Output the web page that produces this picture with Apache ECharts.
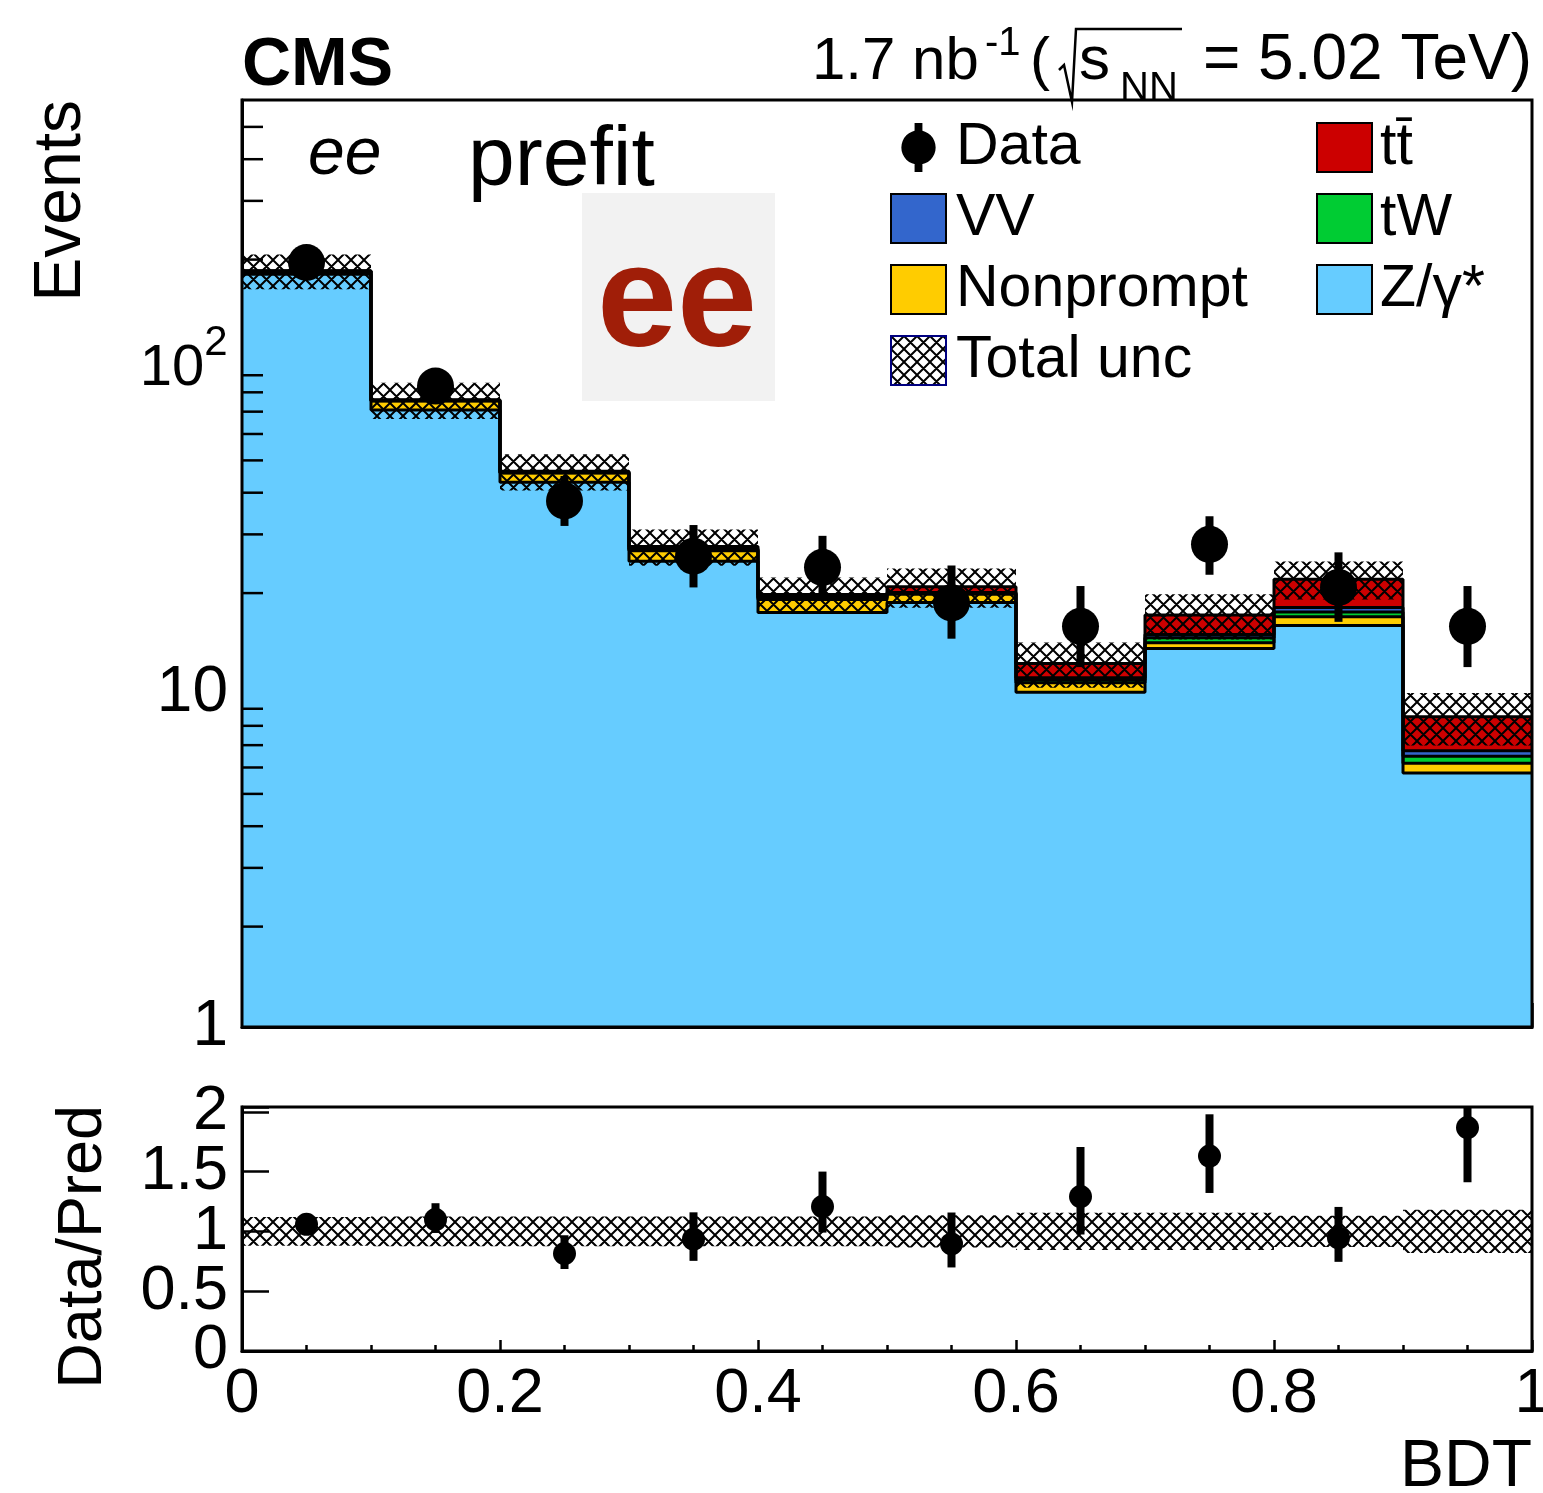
<!DOCTYPE html>
<html>
<head>
<meta charset="utf-8">
<script src="https://cdn.jsdelivr.net/npm/echarts@6/dist/echarts.min.js"></script>
<style>
  html, body { margin: 0; padding: 0; background: #ffffff; }
  #chart { width: 1543px; height: 1493px; }
</style>
</head>
<body>
<div id="chart"></div>
<script>
// ---- BDT distribution, ee channel, prefit ----
const binEdges = [0, 0.1, 0.2, 0.3, 0.4, 0.5, 0.6, 0.7, 0.8, 0.9, 1.0];

// expected yields per bin (stacked bottom to top)
const zgamma    = [180.8, 70.8, 43.0, 24.9, 17.5, 18.73, 10.09, 13.65, 16.0, 5.78];
const nonprompt = [3.5, 4.5, 2.8, 1.9, 1.65, 1.1, 0.68, 0.55, 1.0, 0.40];
const tw        = [0.2, 0.2, 0.15, 0.2, 0.15, 0.15, 0.2, 0.5, 0.55, 0.30];
const vv        = [0.3, 0.2, 0.15, 0.15, 0.15, 0.12, 0.18, 0.34, 0.55, 0.25];
const ttbar     = [0.3, 0.3, 0.3, 0.45, 0.35, 0.8, 1.16, 2.14, 3.9, 1.78];

// relative total uncertainty on the prediction
const relUnc = [0.12, 0.125, 0.125, 0.125, 0.125, 0.135, 0.155, 0.155, 0.13, 0.18];

// observed events and their errors
const dataCounts  = [196, 83.5, 37.8, 25.8, 23.9, 18.7, 15.9, 28.0, 20.8, 15.9];
const dataErrUp   = [14.5, 10.4, 7.1, 6.2, 5.8, 5.5, 5.1, 6.0, 5.7, 5.1];
const dataErrDown = [13.5, 8.5, 6.0, 5.0, 4.3, 4.1, 3.9, 5.3, 4.4, 3.9];

// axis settings
const mainYRange = [1, 602];
const ratioYRange = [0, 2.04];
const mainYMinorTicks = [2, 3, 4, 5, 6, 7, 8, 9, 20, 30, 40, 50, 60, 70, 80, 90, 200, 300, 400, 500];
const ratioYLabels = ['0', '0.5', '1', '1.5', '2'];

const FONT = '"Liberation Sans", Arial, Helvetica, sans-serif';

const processes = [
  { name: 'Z/\u03b3*', values: zgamma, color: '#66ccff' },
  { name: 'Nonprompt', values: nonprompt, color: '#ffcc00' },
  { name: 'tW', values: tw, color: '#00cc33' },
  { name: 'VV', values: vv, color: '#3366cc' },
  { name: 'tt\u0304', values: ttbar, color: '#cc0000' }
];

const nBins = binEdges.length - 1;
const binLo = binEdges.slice(0, -1);
const binHi = binEdges.slice(1);
const binCenter = binLo.map((lo, i) => (lo + binHi[i]) / 2);

// cumulative stack levels
const levels = [];
let running = binLo.map(() => 0);
processes.forEach(p => {
  const bottom = running.slice();
  running = running.map((v, i) => v + p.values[i]);
  levels.push({ bottom, top: running.slice() });
});
const prediction = running;

// cross-hatch pattern for the uncertainty band
function makeHatch() {
  const s = 13;
  const c = document.createElement('canvas');
  c.width = s; c.height = s;
  const g = c.getContext('2d');
  g.strokeStyle = '#000';
  g.lineWidth = 2;
  g.beginPath();
  [-s, 0, s].forEach(o => {
    g.moveTo(o, 0); g.lineTo(o + s, s);
    g.moveTo(o + s, 0); g.lineTo(o, s);
  });
  g.stroke();
  return c;
}
const hatchPattern = { image: makeHatch(), repeat: 'repeat' };

function rectItem(params, api, fill) {
  const p0 = api.coord([api.value(0), api.value(3)]);
  const p1 = api.coord([api.value(1), api.value(2)]);
  return {
    type: 'rect',
    shape: { x: p0[0], y: p0[1], width: p1[0] - p0[0], height: p1[1] - p0[1] },
    style: { fill: fill }
  };
}

function errorBar(width) {
  return function (params, api) {
    const top = api.coord([api.value(0), api.value(2)]);
    const bot = api.coord([api.value(0), api.value(1)]);
    return {
      type: 'rect',
      shape: { x: top[0] - width / 2, y: top[1], width: width, height: bot[1] - top[1] },
      style: { fill: '#000' }
    };
  };
}

const series = [];

// stacked process histograms
processes.forEach((p, k) => {
  series.push({
    name: p.name,
    type: 'custom',
    xAxisIndex: 0, yAxisIndex: 0,
    z: 1,
    itemStyle: { color: p.color, borderColor: '#000', borderWidth: 2 },
    encode: { x: [0, 1], y: [2, 3] },
    data: binLo.map((lo, i) => [lo, binHi[i], k === 0 ? mainYRange[0] : levels[k].bottom[i], levels[k].top[i]]),
    renderItem: (params, api) => rectItem(params, api, api.visual('color'))
  });
});

// histogram outlines of each stack level
levels.forEach((lv, k) => {
  series.push({
    name: 'outline' + k,
    type: 'line',
    xAxisIndex: 0, yAxisIndex: 0,
    z: 2,
    step: 'end',
    showSymbol: false,
    silent: true,
    lineStyle: { color: '#000', width: 3 },
    data: binLo.map((lo, i) => [lo, lv.top[i]]).concat([[binHi[nBins - 1], lv.top[nBins - 1]]])
  });
});

// total uncertainty band on the stack
series.push({
  name: 'Total unc',
  type: 'custom',
  xAxisIndex: 0, yAxisIndex: 0,
  z: 3,
  itemStyle: { color: '#000' },
  encode: { x: [0, 1], y: [2, 3] },
  data: binLo.map((lo, i) => [lo, binHi[i], prediction[i] * (1 - relUnc[i]), prediction[i] * (1 + relUnc[i])]),
  renderItem: (params, api) => rectItem(params, api, hatchPattern)
});

// observed data
series.push({
  name: 'Data-err',
  type: 'custom',
  xAxisIndex: 0, yAxisIndex: 0,
  z: 4,
  clip: true,
  encode: { x: 0, y: [1, 2] },
  data: binCenter.map((x, i) => [x, dataCounts[i] - dataErrDown[i], dataCounts[i] + dataErrUp[i]]),
  renderItem: errorBar(8)
});
series.push({
  name: 'Data',
  type: 'scatter',
  xAxisIndex: 0, yAxisIndex: 0,
  z: 5,
  symbol: 'circle',
  symbolSize: 37,
  itemStyle: { color: '#000', opacity: 1 },
  data: binCenter.map((x, i) => [x, dataCounts[i]])
});

// minor ticks of the logarithmic axis
series.push({
  name: 'ytick-minor',
  type: 'custom',
  xAxisIndex: 0, yAxisIndex: 0,
  z: 6,
  silent: true,
  encode: { y: 0 },
  data: mainYMinorTicks.map(v => [v]),
  renderItem: (params, api) => {
    const p = api.coord([0, api.value(0)]);
    return { type: 'line', shape: { x1: p[0], y1: p[1], x2: p[0] + 21, y2: p[1] }, style: { stroke: '#000', lineWidth: 2.5 } };
  }
});

// ratio panel: uncertainty band
series.push({
  name: 'ratio-unc',
  type: 'custom',
  xAxisIndex: 1, yAxisIndex: 1,
  z: 3,
  encode: { x: [0, 1], y: [2, 3] },
  data: binLo.map((lo, i) => [lo, binHi[i], 1 - relUnc[i], 1 + relUnc[i]]),
  renderItem: (params, api) => rectItem(params, api, hatchPattern)
});
// ratio panel: data / prediction
series.push({
  name: 'ratio-err',
  type: 'custom',
  xAxisIndex: 1, yAxisIndex: 1,
  z: 4,
  clip: true,
  encode: { x: 0, y: [1, 2] },
  data: binCenter.map((x, i) => [x, (dataCounts[i] - dataErrDown[i]) / prediction[i], (dataCounts[i] + dataErrUp[i]) / prediction[i]]),
  renderItem: errorBar(8)
});
series.push({
  name: 'ratio',
  type: 'scatter',
  xAxisIndex: 1, yAxisIndex: 1,
  z: 5,
  symbol: 'circle',
  symbolSize: 23,
  itemStyle: { color: '#000', opacity: 1 },
  data: binCenter.map((x, i) => [x, dataCounts[i] / prediction[i]])
});
// ratio panel: y tick labels
series.push({
  name: 'ratio-ylabels',
  type: 'custom',
  xAxisIndex: 1, yAxisIndex: 1,
  z: 6,
  silent: true,
  encode: { y: 0 },
  data: ratioYLabels.map(t => [parseFloat(t)]),
  renderItem: (params, api) => {
    const p = api.coord([0, api.value(0)]);
    return {
      type: 'text', x: p[0] - 14, y: p[1],
      style: { text: ratioYLabels[params.dataIndex], fill: '#000', align: 'right', verticalAlign: 'middle', font: 'normal 63px ' + FONT }
    };
  }
});

const axisLine = { show: true, lineStyle: { color: '#000', width: 3 } };
const tickStyle = { color: '#000', width: 2.5 };

// text placed by its baseline
function txt(x, baseline, text, size, extra) {
  const o = Object.assign({ align: 'left', weight: 'normal', style: 'normal', color: '#000' }, extra || {});
  return {
    type: 'text', x: x, y: baseline - 0.29 * size, z: 50,
    style: {
      text: text, fill: o.color, align: o.align, verticalAlign: 'middle',
      font: o.style + ' ' + o.weight + ' ' + size + 'px ' + FONT
    }
  };
}

const dataIcon = 'path://M23.5 0H31.5V50H23.5Z M10 25A17.5 17.5 0 1 1 45 25A17.5 17.5 0 1 1 10 25Z';

const option = {
  animation: false,
  backgroundColor: '#ffffff',
  textStyle: { fontFamily: FONT },
  grid: [
    { left: 242, top: 100, width: 1290, height: 927, show: false, outerBoundsMode: 'none', containLabel: false },
    { left: 242, top: 1107, width: 1290, height: 244, show: false, outerBoundsMode: 'none', containLabel: false }
  ],
  xAxis: [
    {
      type: 'value', gridIndex: 0, min: 0, max: 1, interval: 0.1,
      axisLine: axisLine,
      axisTick: { show: true, inside: true, length: 24, lineStyle: tickStyle },
      minorTick: { show: true, splitNumber: 5, length: 12, lineStyle: tickStyle },
      axisLabel: { show: false },
      splitLine: { show: false }
    },
    {
      type: 'value', gridIndex: 1, min: 0, max: 1, interval: 0.2,
      axisLine: axisLine,
      axisTick: { show: true, inside: true, length: 11, lineStyle: tickStyle },
      minorTick: { show: true, splitNumber: 4, length: 6, lineStyle: tickStyle },
      axisLabel: { show: true, margin: 19, fontSize: 63, lineHeight: 50, color: '#000', fontFamily: FONT, showMinLabel: true, showMaxLabel: true, hideOverlap: false },
      splitLine: { show: false }
    }
  ],
  yAxis: [
    {
      type: 'log', logBase: 10, gridIndex: 0, min: mainYRange[0], max: mainYRange[1],
      axisLine: axisLine,
      axisTick: { show: true, inside: true, length: 42, lineStyle: tickStyle },
      axisLabel: {
        show: true, margin: 14, fontSize: 64, color: '#000', fontFamily: FONT, showMinLabel: true, showMaxLabel: false,
        formatter: v => (Math.abs(v - 100) < 1e-6 ? '{b|10}{s|2}{p| }' : String(Math.round(v))),
        rich: {
          b: { fontSize: 58, lineHeight: 58, verticalAlign: 'bottom', fontFamily: FONT, color: '#000' },
          s: { fontSize: 42, lineHeight: 42, verticalAlign: 'top', fontFamily: FONT, color: '#000' },
          p: { fontSize: 1, lineHeight: 76, verticalAlign: 'middle' }
        }
      },
      splitLine: { show: false }
    },
    {
      type: 'value', gridIndex: 1, min: ratioYRange[0], max: ratioYRange[1], interval: 0.5,
      axisLine: axisLine,
      axisTick: { show: true, inside: true, length: 27, lineStyle: tickStyle },
      axisLabel: { show: false },
      splitLine: { show: false }
    }
  ],
  legend: [
    {
      orient: 'vertical', left: 885, top: 113, itemWidth: 55, itemHeight: 49, itemGap: 12,
      selectedMode: false, icon: 'rect',
      itemStyle: { borderColor: '#000', borderWidth: 2 },
      textStyle: { fontSize: 59, lineHeight: 57, color: '#000', fontFamily: FONT, padding: [0, 0, 0, 5] },
      data: [
        { name: 'Data', icon: dataIcon, itemStyle: { color: '#000', borderWidth: 0 } },
        { name: 'VV' },
        { name: 'Nonprompt' },
        { name: 'Total unc', itemStyle: { color: hatchPattern, borderColor: '#000080', borderWidth: 2 } }
      ]
    },
    {
      orient: 'vertical', left: 1311, top: 113, itemWidth: 55, itemHeight: 49, itemGap: 12,
      selectedMode: false, icon: 'rect',
      itemStyle: { borderColor: '#000', borderWidth: 2 },
      textStyle: { fontSize: 59, lineHeight: 57, color: '#000', fontFamily: FONT, padding: [0, 0, 0, 3] },
      data: [{ name: 'tt\u0304' }, { name: 'tW' }, { name: 'Z/\u03b3*' }]
    }
  ],
  graphic: [
    // panel frames
    { type: 'rect', z: 40, shape: { x: 242, y: 100, width: 1290, height: 927 }, style: { fill: 'none', stroke: '#000', lineWidth: 3 } },
    { type: 'rect', z: 40, shape: { x: 242, y: 1107, width: 1290, height: 244 }, style: { fill: 'none', stroke: '#000', lineWidth: 3 } },
    // channel badge
    { type: 'rect', z: 30, shape: { x: 582, y: 193, width: 193, height: 208 }, style: { fill: '#f2f2f2' } },
    txt(677, 348, 'ee', 144, { align: 'center', weight: 'bold', color: '#a01e08' }),
    // headers
    txt(242, 86, 'CMS', 68, { weight: 'bold' }),
    txt(812, 80, '1.7 nb', 60),
    txt(985, 56, '-1', 40),
    txt(1030, 80, '(', 60),
    {
      type: 'polyline', z: 50,
      shape: { points: [[1059, 70], [1064, 65], [1072, 102], [1076, 29], [1182, 29]] },
      style: { fill: 'none', stroke: '#000', lineWidth: 2.5 }
    },
    txt(1079, 80, 's', 62),
    txt(1120, 101, 'NN', 40),
    txt(1532, 80, '= 5.02 TeV)', 64, { align: 'right' }),
    // in-plot labels
    txt(308, 175, 'ee', 66, { style: 'italic' }),
    txt(468, 186, 'prefit', 84),
    // axis titles
    {
      type: 'text', x: 62, y: 100, rotation: Math.PI / 2, z: 50,
      style: { text: 'Events', fill: '#000', align: 'right', verticalAlign: 'middle', font: 'normal 66px ' + FONT }
    },
    {
      type: 'text', x: 84, y: 1105, rotation: Math.PI / 2, z: 50,
      style: { text: 'Data/Pred', fill: '#000', align: 'right', verticalAlign: 'middle', font: 'normal 63px ' + FONT }
    },
    txt(1532, 1487, 'BDT', 66, { align: 'right' })
  ],
  series: series
};

const chart = echarts.init(document.getElementById('chart'), null, { renderer: 'canvas', width: 1543, height: 1493 });
chart.setOption(option);
</script>
</body>
</html>
